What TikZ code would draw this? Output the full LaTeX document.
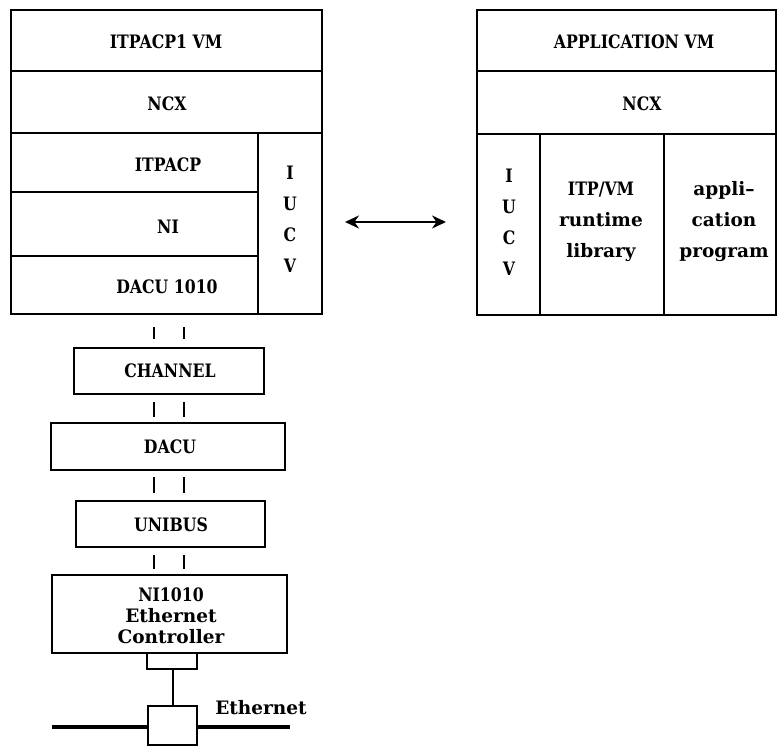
\documentclass[tikz,border=0pt]{standalone}
\usepackage{fontspec}
\setmainfont{DejaVu Serif}[FakeStretch=0.85]
\newfontfamily\lcfont{DejaVu Serif}[Ligatures=TeX]
\usetikzlibrary{arrows.meta,calc}
\tikzset{
  cell/.style={draw, line width=1.6pt, rectangle, inner sep=0pt, outer sep=0pt, anchor=north west, fill=none},
  txt/.style={inner sep=0pt, font=\bfseries\fontsize{18.5}{30}\selectfont, align=center},
  txtv/.style={inner sep=0pt, font=\bfseries\fontsize{18.5}{31}\selectfont, align=center},
  txtn/.style={inner sep=0pt, font=\bfseries\fontsize{18.5}{21}\selectfont, align=center},
  tickline/.style={line width=1.6pt},
  link/.style={line width=1.6pt},
  dblarrow/.style={line width=2.2pt, {Stealth[length=14pt,width=13pt]}-{Stealth[length=14pt,width=13pt]}},
  ether/.style={line width=4pt}
}
\begin{document}
\begin{tikzpicture}[x=1pt,y=-1pt]
\useasboundingbox (0,0) rectangle (778,746);
% left VM
\node[cell, minimum width=311pt, minimum height=61pt] (lvm) at (11,10) {};
\node[cell, minimum width=311pt, minimum height=62pt] (lncx) at (11,71) {};
\node[cell, minimum width=247pt, minimum height=59pt] (litp) at (11,133) {};
\node[cell, minimum width=247pt, minimum height=64pt] (lni) at (11,192) {};
\node[cell, minimum width=247pt, minimum height=58pt] (ldacu) at (11,256) {};
\node[cell, minimum width=64pt, minimum height=181pt] (liucv) at (258,133) {};
\node[txt] (tlvm) at (166,42) {ITPACP1 VM};
\node[txt] (tlncx) at (167,104) {NCX};
\node[txt] (tlitp) at (168,165) {ITPACP};
\node[txt] (tlni) at (168,227) {NI};
\node[txt] (tldacu) at (167,287) {DACU 1010};
\node[txtv] (tliucv) at (290,219) {I\\U\\C\\V};
% right VM
\node[cell, minimum width=299pt, minimum height=61pt] (rvm) at (477,10) {};
\node[cell, minimum width=299pt, minimum height=63pt] (rncx) at (477,71) {};
\node[cell, minimum width=63pt, minimum height=181pt] (riucv) at (477,134) {};
\node[cell, minimum width=124pt, minimum height=181pt] (rlib) at (540,134) {};
\node[cell, minimum width=112pt, minimum height=181pt] (rapp) at (664,134) {};
\node[txt] (trvm) at (634,42) {APPLICATION VM};
\node[txt] (trncx) at (642,104) {NCX};
\node[txtv] (triucv) at (509,222) {I\\U\\C\\V};
\node[txtv] (trlib) at (601,222) {ITP/VM\\{\lcfont runtime}\\{\lcfont library}};
\node[txtv] (trapp) at (724,222) {\lcfont appli–\\\lcfont cation\\\lcfont program};
% arrow
\coordinate (aL) at (345,222);
\coordinate (aR) at (446,222);
\draw[dblarrow] (aL) -- (aR);
% chain
\node[cell, minimum width=190pt, minimum height=46pt] (chan) at (74,348) {};
\node[cell, minimum width=234pt, minimum height=47pt] (dacu) at (51,423) {};
\node[cell, minimum width=189pt, minimum height=46pt] (unib) at (76,501) {};
\node[cell, minimum width=235pt, minimum height=78pt] (nic) at (52,575) {};
\node[cell, minimum width=50pt, minimum height=16pt] (trans) at (147,653) {};
\node[cell, minimum width=49pt, minimum height=39pt, fill=white] (sq) at (148,706) {};
\node[txt] (tchan) at (170,371) {CHANNEL};
\node[txt] (tdacu) at (170,447) {DACU};
\node[txt] (tunib) at (171,525) {UNIBUS};
\node[txtn] (tnic) at (171,616) {NI1010\\{\lcfont Ethernet}\\{\lcfont Controller}};
\node[txt] (teth) at (261,708) {\lcfont Ethernet};
% ticks
\coordinate (ca) at (154,0);
\coordinate (cb) at (184,0);
\foreach \c in {ca,cb}{
  \draw[tickline, shorten <=13pt, shorten >=9pt] (ldacu.south -| \c) -- (chan.north -| \c);
  \draw[tickline, shorten <=8pt, shorten >=6pt] (chan.south -| \c) -- (dacu.north -| \c);
  \draw[tickline, shorten <=7pt, shorten >=8pt] (dacu.south -| \c) -- (unib.north -| \c);
  \draw[tickline, shorten <=8pt, shorten >=6pt] (unib.south -| \c) -- (nic.north -| \c);
}
% transceiver cable and ethernet
\coordinate (cx) at (173,0);
\draw[link] (trans.south -| cx) -- (sq.north -| cx);
\coordinate (eL) at (52,727);
\coordinate (eR) at (290,727);
\draw[ether] (eL) -- (sq.west |- eL);
\draw[ether] (sq.east |- eR) -- (eR);
\end{tikzpicture}
\end{document}
